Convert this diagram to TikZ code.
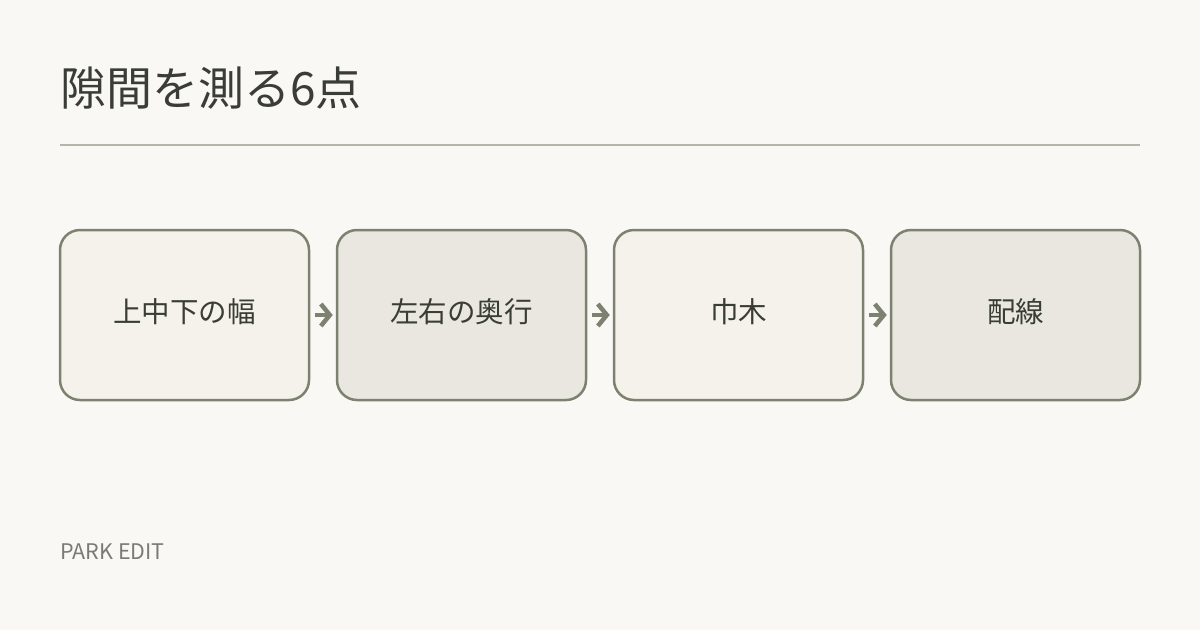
\documentclass[tikz,border=0pt]{standalone}
\usepackage{fontspec}
\setmainfont{Noto Sans CJK JP}
\newfontfamily\titlefont{Noto Sans CJK JP}
\usetikzlibrary{positioning, arrows.meta}
\definecolor{bgcol}{HTML}{F9F8F4}
\definecolor{inkcol}{HTML}{3A3D36}
\definecolor{edgecol}{HTML}{7D8270}
\definecolor{rulecol}{HTML}{B6B6A6}
\definecolor{fillA}{HTML}{F4F2EA}
\definecolor{fillB}{HTML}{E9E7E0}
\definecolor{footcol}{HTML}{7A7B76}
\tikzset{
		stagebox/.style={draw=edgecol, line width=2.5pt, rounded corners=20pt,
			minimum width=249pt, minimum height=170pt, inner sep=0pt,
			text=inkcol, font=\fontsize{28.5}{32}\selectfont},
		flow/.style={draw=edgecol, line width=4.5pt,
			-{Straight Barb[length=9pt, width=22pt, line width=4.5pt]},
			shorten <=5pt, shorten >=3pt}
	}
\newcommand{\stage}[4]{\node[stagebox, fill=#3] (#1) at (#2, 315) {\raisebox{9pt}{#4}};}

\begin{document}
\begin{tikzpicture}[x=1pt, y=-1pt]
		\fill[bgcol] (0, 0) rectangle (1200, 630);
		\useasboundingbox (0, 0) rectangle (1200, 630);
		% title and rule
		\node[anchor=west, inner sep=0pt, text=inkcol, font=\titlefont\fontsize{46}{52}\selectfont] (title) at (60, 88) {隙間を測る6点};
		\draw[rulecol, line width=2pt] (60, 145) -- (1140, 145);
		% stages
		\stage{wide}{184.5}{fillA}{上中下の幅}
		\stage{deep}{461.5}{fillB}{左右の奥行}
		\stage{skirt}{738.5}{fillA}{巾木}
		\stage{wire}{1015.5}{fillB}{配線}
		\draw[flow] (wide) -- (deep);
		\draw[flow] (deep) -- (skirt);
		\draw[flow] (skirt) -- (wire);
		% footer
		\node[anchor=west, inner sep=0pt, text=footcol, font=\fontsize{21.5}{26}\selectfont] (brand) at (60, 552) {PARK EDIT};
	\end{tikzpicture}
\end{document}
